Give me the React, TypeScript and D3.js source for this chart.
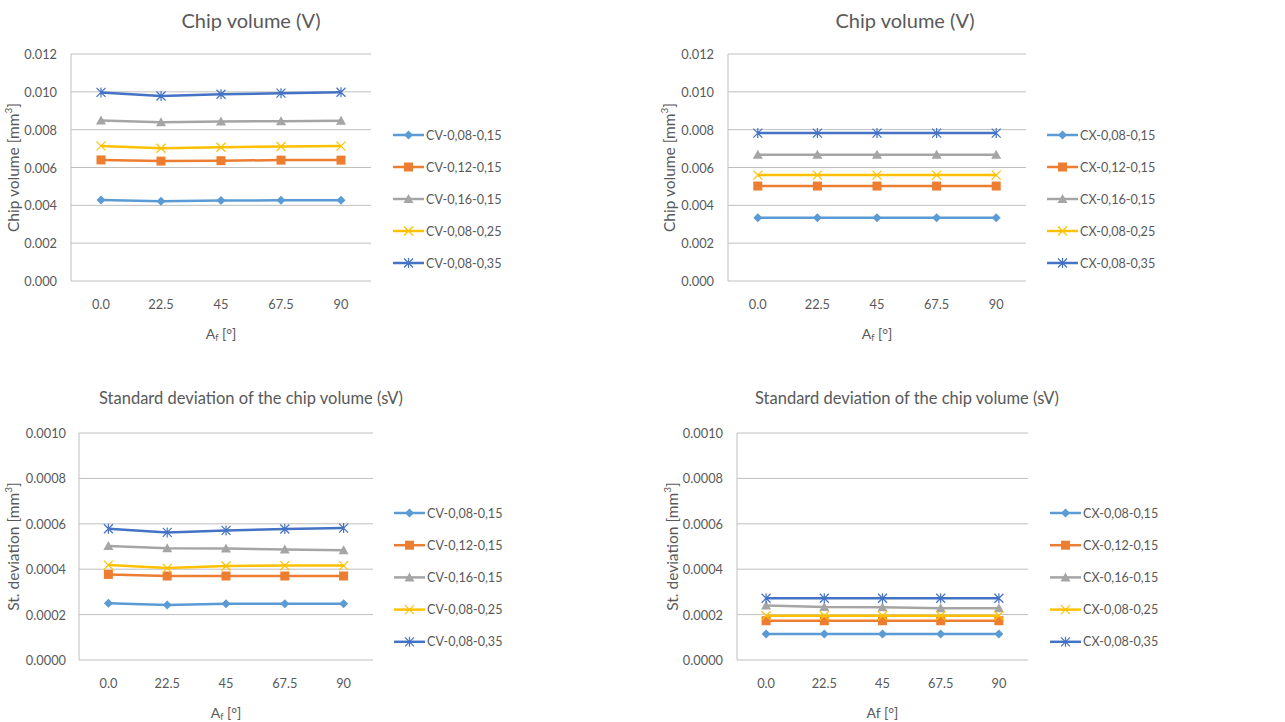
import * as React from "react";
import * as d3 from "d3";

// x categories (feed direction angle)
const angles = ["0.0", "22.5", "45", "67.5", "90"];

// series names
const cvNames = ["CV-0,08-0,15", "CV-0,12-0,15", "CV-0,16-0,15", "CV-0,08-0,25", "CV-0,08-0,35"];
const cxNames = ["CX-0,08-0,15", "CX-0,12-0,15", "CX-0,16-0,15", "CX-0,08-0,25", "CX-0,08-0,35"];

// chip volume V [mm3], CV inserts
const cvV_08_015 = [0.00428, 0.00422, 0.00425, 0.00427, 0.00427];
const cvV_12_015 = [0.0064, 0.00634, 0.00636, 0.00639, 0.00639];
const cvV_16_015 = [0.00848, 0.00839, 0.00843, 0.00845, 0.00847];
const cvV_08_025 = [0.00714, 0.00702, 0.00707, 0.00711, 0.00713];
const cvV_08_035 = [0.00997, 0.00978, 0.00987, 0.00993, 0.00998];

// chip volume V [mm3], CX inserts
const cxV_08_015 = [0.00334, 0.00334, 0.00334, 0.00334, 0.00334];
const cxV_12_015 = [0.00502, 0.00502, 0.00502, 0.00502, 0.00502];
const cxV_16_015 = [0.00668, 0.00668, 0.00668, 0.00668, 0.00668];
const cxV_08_025 = [0.0056, 0.0056, 0.0056, 0.0056, 0.0056];
const cxV_08_035 = [0.00782, 0.00782, 0.00782, 0.00782, 0.00782];

// standard deviation sV [mm3], CV inserts
const cvS_08_015 = [0.00025, 0.000242, 0.000248, 0.000248, 0.000248];
const cvS_12_015 = [0.000377, 0.00037, 0.00037, 0.00037, 0.00037];
const cvS_16_015 = [0.000502, 0.000492, 0.000491, 0.000487, 0.000484];
const cvS_08_025 = [0.000418, 0.000405, 0.000414, 0.000416, 0.000416];
const cvS_08_035 = [0.000578, 0.000562, 0.000571, 0.000577, 0.000581];

// standard deviation sV [mm3], CX inserts
const cxS_08_015 = [0.000115, 0.000115, 0.000115, 0.000115, 0.000115];
const cxS_12_015 = [0.000173, 0.000173, 0.000173, 0.000173, 0.000173];
const cxS_16_015 = [0.00024, 0.000233, 0.000232, 0.000228, 0.000228];
const cxS_08_025 = [0.000195, 0.000195, 0.000195, 0.000195, 0.000195];
const cxS_08_035 = [0.000272, 0.000272, 0.000272, 0.000272, 0.000272];

const colors = ["#5B9BD5", "#ED7D31", "#A5A5A5", "#FFC000", "#4472C4"];
const markers = ["diamond", "square", "triangle", "x", "star"];

const FONT = "Lato, 'Open Sans', sans-serif";
const TXT = "#595959";
const LBL = 12.8;

function Marker({ kind, color }: { kind: string; color: string }) {
  if (kind === "diamond") {
    return <path d="M0,-4.5L4.5,0L0,4.5L-4.5,0Z" fill={color} />;
  }
  if (kind === "square") {
    return <rect x={-4.5} y={-4.5} width={9} height={9} fill={color} />;
  }
  if (kind === "triangle") {
    return <path d="M0,-5L5,4L-5,4Z" fill={color} />;
  }
  if (kind === "x") {
    return <path d="M-4.5,-4.5L4.5,4.5M-4.5,4.5L4.5,-4.5" stroke={color} strokeWidth={1.2} fill="none" />;
  }
  return (
    <path
      d="M-4.5,-4.5L4.5,4.5M-4.5,4.5L4.5,-4.5M0,-5L0,5"
      stroke={color}
      strokeWidth={1.2}
      fill="none"
    />
  );
}

type PanelProps = {
  title: string;
  titleSize: number;
  titleX: number;
  titleY: number;
  left: number;
  right: number;
  top: number;
  bottom: number;
  yMax: number;
  yStep: number;
  yFmt: string;
  yTickX: number;
  yLabel: string;
  yLabelX: number;
  xTickY: number;
  xTitleY: number;
  subscript: boolean;
  legendX0: number;
  legendY0: number;
  legendStep: number;
  names: string[];
  series: number[][];
};

function Panel(p: PanelProps) {
  const x = d3.scalePoint<string>().domain(angles).range([p.left, p.right]).padding(0.5);
  const y = d3.scaleLinear().domain([0, p.yMax]).range([p.bottom, p.top]);
  const ticks = d3.range(0, p.yMax + p.yStep / 2, p.yStep);
  const fmt = d3.format(p.yFmt);
  const line = d3
    .line<number>()
    .x((d, i) => x(angles[i]) as number)
    .y((d) => y(d));
  const xMid = (p.left + p.right) / 2;
  const yMid = (p.top + p.bottom) / 2;

  return (
    <g fontFamily={FONT}>
      <text x={p.titleX} y={p.titleY} textAnchor="middle" dominantBaseline="central" fontSize={p.titleSize} fill={TXT}>
        {p.title}
      </text>
      {ticks.map((t, i) => (
        <g key={i}>
          <line x1={p.left} x2={p.right} y1={y(t)} y2={y(t)} stroke="#BFBFBF" strokeWidth={1} />
          <text x={p.yTickX} y={y(t)} textAnchor="end" dominantBaseline="central" fontSize={LBL} fill={TXT}>
            {fmt(t)}
          </text>
        </g>
      ))}
      <line x1={p.left} x2={p.left} y1={p.top} y2={p.bottom} stroke="#BFBFBF" strokeWidth={1} />
      {angles.map((a) => (
        <text key={a} x={x(a)} y={p.xTickY} textAnchor="middle" dominantBaseline="central" fontSize={LBL} fill={TXT}>
          {a}
        </text>
      ))}
      <text x={xMid} y={p.xTitleY} textAnchor="middle" dominantBaseline="central" fontSize={14} fill={TXT}>
        {p.subscript ? (
          <>
            A<tspan fontSize={9} dy={4}>f</tspan>
            <tspan dy={-4}> [°]</tspan>
          </>
        ) : (
          "Af [°]"
        )}
      </text>
      <text
        transform={`translate(${p.yLabelX},${yMid}) rotate(-90)`}
        textAnchor="middle"
        dominantBaseline="central"
        fontSize={15.5}
        fill={TXT}
      >
        {p.yLabel} [mm<tspan fontSize={10} dy={-5}>3</tspan>
        <tspan dy={5}>]</tspan>
      </text>
      {p.series.map((s, si) => (
        <g key={si}>
          <path d={line(s) ?? ""} fill="none" stroke={colors[si]} strokeWidth={2.5} strokeLinejoin="round" />
          {s.map((v, i) => (
            <g key={i} transform={`translate(${x(angles[i])},${y(v)})`}>
              <Marker kind={markers[si]} color={colors[si]} />
            </g>
          ))}
        </g>
      ))}
      {p.names.map((n, i) => {
        const ly = p.legendY0 + i * p.legendStep;
        return (
          <g key={n}>
            <line x1={p.legendX0} x2={p.legendX0 + 31} y1={ly} y2={ly} stroke={colors[i]} strokeWidth={2.5} />
            <g transform={`translate(${p.legendX0 + 15.5},${ly})`}>
              <Marker kind={markers[i]} color={colors[i]} />
            </g>
            <text x={p.legendX0 + 33} y={ly} dominantBaseline="central" fontSize={12.6} fill={TXT}>
              {n}
            </text>
          </g>
        );
      })}
    </g>
  );
}

export default function App() {
  return (
    <svg width={1285} height={722} style={{ position: "absolute", left: 0, top: 0, background: "#fff" }}>
      <rect width={1285} height={722} fill="#fff" />
      <Panel
        title="Chip volume (V)"
        titleSize={20}
        titleX={251}
        titleY={20}
        left={71}
        right={371}
        top={54}
        bottom={281}
        yMax={0.012}
        yStep={0.002}
        yFmt=".3f"
        yTickX={57}
        yLabel="Chip volume"
        yLabelX={13}
        xTickY={304}
        xTitleY={333}
        subscript={true}
        legendX0={393}
        legendY0={135}
        legendStep={32}
        names={cvNames}
        series={[cvV_08_015, cvV_12_015, cvV_16_015, cvV_08_025, cvV_08_035]}
      />
      <Panel
        title="Chip volume (V)"
        titleSize={20}
        titleX={905}
        titleY={20}
        left={728}
        right={1026}
        top={54}
        bottom={281}
        yMax={0.012}
        yStep={0.002}
        yFmt=".3f"
        yTickX={714}
        yLabel="Chip volume"
        yLabelX={669}
        xTickY={304}
        xTitleY={333}
        subscript={true}
        legendX0={1047}
        legendY0={135}
        legendStep={32}
        names={cxNames}
        series={[cxV_08_015, cxV_12_015, cxV_16_015, cxV_08_025, cxV_08_035]}
      />
      <Panel
        title="Standard deviation of the chip volume (sV)"
        titleSize={16.5}
        titleX={251}
        titleY={398}
        left={79}
        right={373}
        top={433}
        bottom={660}
        yMax={0.001}
        yStep={0.0002}
        yFmt=".4f"
        yTickX={66}
        yLabel="St. deviation"
        yLabelX={13}
        xTickY={683}
        xTitleY={712}
        subscript={true}
        legendX0={394}
        legendY0={513}
        legendStep={32.2}
        names={cvNames}
        series={[cvS_08_015, cvS_12_015, cvS_16_015, cvS_08_025, cvS_08_035]}
      />
      <Panel
        title="Standard deviation of the chip volume (sV)"
        titleSize={16.5}
        titleX={907}
        titleY={398}
        left={737}
        right={1028}
        top={433}
        bottom={660}
        yMax={0.001}
        yStep={0.0002}
        yFmt=".4f"
        yTickX={723}
        yLabel="St. deviation"
        yLabelX={672}
        xTickY={683}
        xTitleY={712}
        subscript={false}
        legendX0={1050}
        legendY0={513}
        legendStep={32.2}
        names={cxNames}
        series={[cxS_08_015, cxS_12_015, cxS_16_015, cxS_08_025, cxS_08_035]}
      />
    </svg>
  );
}
